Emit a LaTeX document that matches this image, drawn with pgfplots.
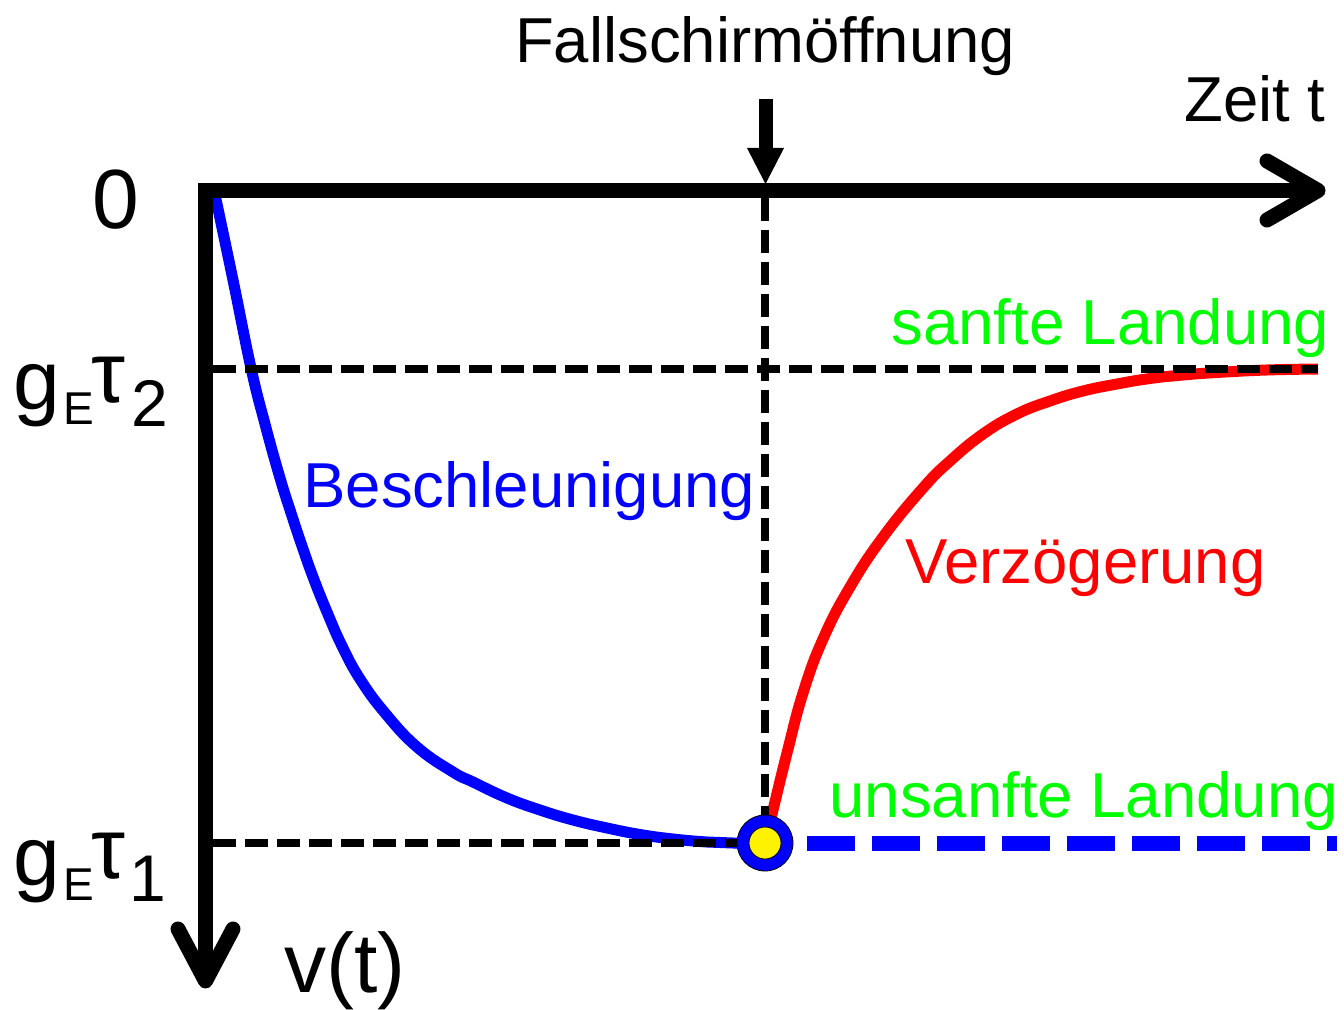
\documentclass[border=0pt]{standalone}
\usepackage{pgfplots}
\pgfplotsset{compat=1.18}
\usepackage{fontspec}
\setmainfont{Liberation Sans}
\definecolor{lgreen}{RGB}{0,255,0}
\begin{document}
\begin{tikzpicture}
\begin{axis}[width=672pt,height=505pt,scale only axis,
  xmin=0,xmax=1344,ymin=0,ymax=1010,y dir=reverse,
  hide axis,clip=false]
% free fall until the parachute opens
\addplot[blue,line width=5.5pt,smooth,tension=0.75] coordinates {
 (214,190) (233,280) (251,368) (265,424) (280,478) (292,516) (302,546)
 (313,577) (327,612) (342,646) (360,679) (385,713) (417,747) (453,772)
 (473,782) (507,798) (540,810) (573,820) (607,828) (640,834.5)
 (673,839) (707,842) (733,843) (765,843.5)};
% braking with the parachute open
\addplot[red,line width=5.5pt,smooth,tension=0.75] coordinates {
 (765,843) (773,810) (787,753) (803,693) (823,639) (850,587) (883,537)
 (923,488) (950,461) (983,434) (1017,414) (1050,401) (1083,391)
 (1117,384) (1150,378.5) (1183,375) (1217,372.5) (1267,370) (1318,369)};
% terminal speed without parachute
\addplot[blue,line width=7.5pt,dash pattern=on 24pt off 8.5pt] coordinates {(807,843) (1337,843)};
% guide lines
\addplot[black,line width=4pt,dash pattern=on 11.5pt off 4.5pt] coordinates {(213,369) (1318,369)};
\addplot[black,line width=4pt,dash pattern=on 11.5pt off 4.5pt] coordinates {(213,843) (745,843)};
\addplot[black,line width=4pt,dash pattern=on 11.5pt off 4.5pt] coordinates {(765,198) (765,818)};
% opening instant: blue ring with yellow core
\addplot[only marks,mark=*,mark size=14pt,mark options={draw=none,fill=blue}] coordinates {(765,843)};
\addplot[only marks,mark=*,mark size=8pt,mark options={draw=none,fill=yellow}] coordinates {(765,843)};
% axes
\draw[line width=7.5pt] (axis cs:198,190.5) -- (axis cs:1316,190.5);
\draw[line width=7.5pt,line cap=round,line join=round] (axis cs:1267,161) -- (axis cs:1318,190.5) -- (axis cs:1267,220);
\draw[line width=7.5pt] (axis cs:205.5,183) -- (axis cs:205.5,978);
\draw[line width=7.5pt,line cap=round,line join=round] (axis cs:178,929) -- (axis cs:205.5,981) -- (axis cs:233,929);
% parachute arrow
\draw[line width=7pt] (axis cs:765.5,99) -- (axis cs:765.5,152);
\fill (axis cs:747,148) -- (axis cs:784,148) -- (axis cs:765.5,184) -- cycle;
% labels
\node[anchor=base,inner sep=0pt] at (axis cs:765,63) {\fontsize{31.75pt}{36pt}\selectfont Fallschirmöffnung};
\node[anchor=base west,inner sep=0pt] at (axis cs:1184,122) {\fontsize{31.75pt}{36pt}\selectfont Zeit t};
\node[anchor=base west,inner sep=0pt] at (axis cs:92,229) {\fontsize{42pt}{48pt}\selectfont 0};
\node[anchor=base west,inner sep=0pt] at (axis cs:284,992) {\fontsize{42pt}{48pt}\selectfont v(t)};
% g_E tau_2
\node[anchor=base west,inner sep=0pt] at (axis cs:13,410) {\fontsize{42pt}{48pt}\selectfont g};
\node[anchor=base west,inner sep=0pt] at (axis cs:63,425) {\fontsize{23pt}{26pt}\selectfont E};
\node[anchor=base west,inner sep=0pt] at (axis cs:91,403) {\fontsize{43pt}{48pt}\selectfont τ};
\node[anchor=base west,inner sep=0pt] at (axis cs:131,427) {\fontsize{33pt}{38pt}\selectfont 2};
% g_E tau_1
\node[anchor=base west,inner sep=0pt] at (axis cs:13,885) {\fontsize{42pt}{48pt}\selectfont g};
\node[anchor=base west,inner sep=0pt] at (axis cs:63,900) {\fontsize{23pt}{26pt}\selectfont E};
\node[anchor=base west,inner sep=0pt] at (axis cs:91,878) {\fontsize{43pt}{48pt}\selectfont τ};
\node[anchor=base west,inner sep=0pt] at (axis cs:129,901) {\fontsize{33pt}{38pt}\selectfont 1};
% curve names
\node[anchor=base west,inner sep=0pt,text=blue] at (axis cs:303,508) {\fontsize{31.75pt}{36pt}\selectfont Beschleunigung};
\node[anchor=base west,inner sep=0pt,text=red] at (axis cs:905,583) {\fontsize{31.75pt}{36pt}\selectfont Verzögerung};
\node[anchor=base west,inner sep=0pt,text=lgreen] at (axis cs:891,345) {\fontsize{31.75pt}{36pt}\selectfont sanfte Landung};
\node[anchor=base west,inner sep=0pt,text=lgreen] at (axis cs:829,817) {\fontsize{31.75pt}{36pt}\selectfont unsanfte Landung};
\end{axis}
\pgfresetboundingbox
\path (current axis.south west) rectangle (current axis.north east);
\end{tikzpicture}
\end{document}
